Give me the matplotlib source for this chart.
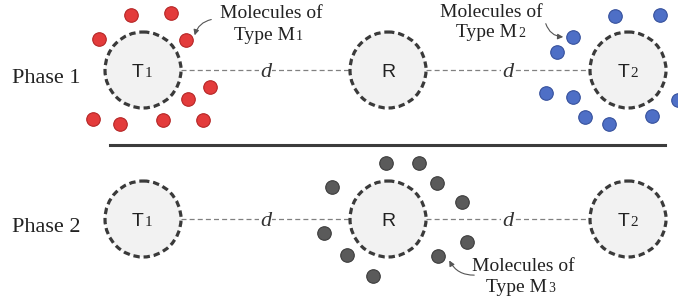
import matplotlib.pyplot as plt
from matplotlib.patches import Circle

# node layout (pixel coordinates of the original diagram)
node_labels = ['T', 'R', 'T']
node_subs = ['1', '', '2']
node_x = [143, 388, 628]
phase_y = [70, 219]
phase_names = ['Phase 1', 'Phase 2']
node_r = 38

# molecules
red_x = [131, 171, 99, 186, 210, 188, 93, 120, 163, 203]
red_y = [15, 13, 39, 40, 87, 99, 119, 124, 120, 120]
blue_x = [615, 660, 573, 557, 546, 573, 585, 609, 652, 678]
blue_y = [16, 15, 37, 52, 93, 97, 117, 124, 116, 100]
gray_x = [386, 419, 437, 462, 332, 324, 347, 373, 467, 438]
gray_y = [163, 163, 183, 202, 187, 233, 255, 276, 242, 256]

serif = 'Liberation Serif'
sans = 'Liberation Sans'


def main():
    fig = plt.figure(figsize=(6.78, 3.04), dpi=100)
    ax = fig.add_axes([0, 0, 1, 1])
    ax.set_xlim(0, 678)
    ax.set_ylim(304, 0)
    ax.axis('off')

    for py, pname in zip(phase_y, phase_names):
        ax.text(46, py + 13, pname, family=serif, fontsize=16,
                ha='center', va='baseline', color='#222222')
        # dashed links between nodes
        for i in range(len(node_x) - 1):
            x0 = node_x[i] + node_r
            x1 = node_x[i + 1] - node_r
            ax.plot([x0, x1], [py, py], color='#808080', lw=0.9,
                    ls=(0, (4, 2.5)), zorder=1)
            ax.text((x0 + x1) / 2, py + 7, 'd', family=serif, style='italic',
                    fontsize=16, ha='center', va='baseline', color='#333333',
                    zorder=3, bbox=dict(fc='white', ec='none', pad=1.0))
        for x, lab, sub in zip(node_x, node_labels, node_subs):
            ax.add_patch(Circle((x, py), node_r, fc='#f2f2f2', ec='#3a3a3a',
                                lw=2.3, ls=(0, (2.0, 1.2)), zorder=2))
            if sub:
                ax.text(x + 1, py + 7, lab, family=sans, fontsize=14,
                        ha='right', va='baseline', color='#222222', zorder=3)
                ax.text(x + 2, py + 7, sub, family=serif, fontsize=11,
                        ha='left', va='baseline', color='#222222', zorder=3)
            else:
                ax.text(x, py + 7, lab, family=sans, fontsize=14,
                        ha='center', va='baseline', color='#222222', zorder=3)

    # separator
    ax.plot([110, 665], [145, 145], color='#3c3c3c', lw=2.2)

    ax.scatter(red_x, red_y, s=95, c='#e33b3b', edgecolors='#b52525',
               linewidths=0.8, zorder=4)
    ax.scatter(blue_x, blue_y, s=95, c='#4e6fc6', edgecolors='#35509c',
               linewidths=0.8, zorder=4)
    ax.scatter(gray_x, gray_y, s=95, c='#5a5a5a', edgecolors='#3c3c3c',
               linewidths=0.8, zorder=4)

    # annotations
    notes = [(271, 18, 40, 295, '1'), (491, 17, 37, 517, '2'), (523, 271, 292, 547, '3')]
    for cx, y1, y2, mx, sub in notes:
        ax.text(cx, y1, 'Molecules of', family=serif, fontsize=14,
                ha='center', va='baseline', color='#222222')
        ax.text(mx, y2, 'Type M', family=serif, fontsize=14,
                ha='right', va='baseline', color='#222222')
        ax.text(mx + 1, y2, sub, family=serif, fontsize=10,
                ha='left', va='baseline', color='#222222')

    arrow = dict(arrowstyle='-|>', color='#555555', lw=0.8, mutation_scale=8)
    ax.annotate('', xy=(194, 38), xytext=(214, 19),
                arrowprops=dict(arrow, connectionstyle='arc3,rad=0.35'))
    ax.annotate('', xy=(566, 37), xytext=(545, 21),
                arrowprops=dict(arrow, connectionstyle='arc3,rad=0.4'))
    ax.annotate('', xy=(448, 258), xytext=(477, 275),
                arrowprops=dict(arrow, connectionstyle='arc3,rad=-0.35'))

    fig.savefig('out.png', dpi=100, facecolor='white')
    return 0


if __name__ == '__main__':
    main()
